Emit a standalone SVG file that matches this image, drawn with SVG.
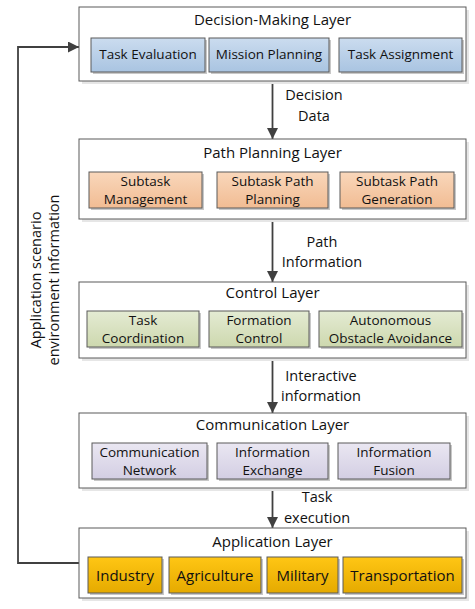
<svg xmlns="http://www.w3.org/2000/svg" width="475" height="609" viewBox="0 0 475 609">
<style>
text{font-family:"Open Sans","Liberation Sans",sans-serif;fill:#111;text-anchor:middle}
.title{font-size:15px}
.sub{font-size:13.5px}
.app{font-size:15px}
.lbl{font-size:14.5px}
.layer{fill:#fff;stroke:#5a5a5a;stroke-width:1}
.lshadow{fill:#e6e6e6}
.sshadow{fill:#c8c8c8}
.box{stroke:#5a5a5a;stroke-width:1}
.b{fill:url(#gBlue)}
.o{fill:url(#gOrange)}
.g{fill:url(#gGreen)}
.p{fill:url(#gPurple)}
.y{fill:url(#gYellow)}
.conn{fill:none;stroke:#404040;stroke-width:1.8}
</style>
<defs>
<linearGradient id="gBlue" x1="0" y1="0" x2="0" y2="1"><stop offset="0" stop-color="#cbdcef"/><stop offset="1" stop-color="#a9c4e1"/></linearGradient>
<linearGradient id="gOrange" x1="0" y1="0" x2="0" y2="1"><stop offset="0" stop-color="#f9d7bb"/><stop offset="1" stop-color="#f1bc93"/></linearGradient>
<linearGradient id="gGreen" x1="0" y1="0" x2="0" y2="1"><stop offset="0" stop-color="#e4ebd3"/><stop offset="1" stop-color="#cdd8ae"/></linearGradient>
<linearGradient id="gPurple" x1="0" y1="0" x2="0" y2="1"><stop offset="0" stop-color="#eae7f2"/><stop offset="1" stop-color="#d3cee3"/></linearGradient>
<linearGradient id="gYellow" x1="0" y1="0" x2="0" y2="1"><stop offset="0" stop-color="#ffc614"/><stop offset="1" stop-color="#e5aa00"/></linearGradient>
<marker id="arr" viewBox="0 0 10 10" refX="10" refY="5" markerWidth="11" markerHeight="11" markerUnits="userSpaceOnUse" orient="auto">
<path d="M0,0 L10,5 L0,10 Z" fill="#404040"/>
</marker>
</defs>

<g id="connectors">
<line class="conn" x1="272.5" y1="81" x2="272.5" y2="139" marker-end="url(#arr)"/>
<line class="conn" x1="272.5" y1="219" x2="272.5" y2="282" marker-end="url(#arr)"/>
<line class="conn" x1="272.5" y1="358" x2="272.5" y2="413" marker-end="url(#arr)"/>
<line class="conn" x1="272.5" y1="488" x2="272.5" y2="528" marker-end="url(#arr)"/>
<polyline class="conn" points="79,563 18,563 18,47 79,47" marker-end="url(#arr)"/>
<text class="lbl" x="314" y="100">Decision</text>
<text class="lbl" x="314" y="121">Data</text>
<text class="lbl" x="322" y="247">Path</text>
<text class="lbl" x="322" y="267">Information</text>
<text class="lbl" x="321" y="381">Interactive</text>
<text class="lbl" x="321" y="401">information</text>
<text class="lbl" x="317" y="502">Task</text>
<text class="lbl" x="317" y="523">execution</text>
<text class="lbl" transform="translate(41,280) rotate(-90)">Application scenario</text>
<text class="lbl" transform="translate(59,280) rotate(-90)">environment information</text>
</g>

<g id="decision-layer">
<rect class="lshadow" x="82" y="10" width="387" height="74"/>
<rect class="layer" x="79" y="7" width="387" height="74"/>
<text class="title" x="272.5" y="25">Decision-Making Layer</text>
<g id="task-evaluation"><rect class="sshadow" x="93" y="40" width="114" height="34"/><rect class="box b" x="91" y="38" width="114" height="34"/><text class="sub" x="148" y="59">Task Evaluation</text></g>
<g id="mission-planning"><rect class="sshadow" x="211" y="40" width="120" height="34"/><rect class="box b" x="209" y="38" width="120" height="34"/><text class="sub" x="269" y="59">Mission Planning</text></g>
<g id="task-assignment"><rect class="sshadow" x="341" y="40" width="123" height="34"/><rect class="box b" x="339" y="38" width="123" height="34"/><text class="sub" x="400.5" y="59">Task Assignment</text></g>
</g>

<g id="path-planning-layer">
<rect class="lshadow" x="82" y="142" width="387" height="80"/>
<rect class="layer" x="79" y="139" width="387" height="80"/>
<text class="title" x="272.5" y="158">Path Planning Layer</text>
<g id="subtask-management"><rect class="sshadow" x="91" y="174" width="113" height="36"/><rect class="box o" x="89" y="172" width="113" height="36"/><text class="sub" x="145.5" y="186">Subtask</text><text class="sub" x="145.5" y="204">Management</text></g>
<g id="subtask-path-planning"><rect class="sshadow" x="219" y="174" width="111" height="36"/><rect class="box o" x="217" y="172" width="111" height="36"/><text class="sub" x="272.5" y="186">Subtask Path</text><text class="sub" x="272.5" y="204">Planning</text></g>
<g id="subtask-path-generation"><rect class="sshadow" x="342" y="174" width="114" height="36"/><rect class="box o" x="340" y="172" width="114" height="36"/><text class="sub" x="397" y="186">Subtask Path</text><text class="sub" x="397" y="204">Generation</text></g>
</g>

<g id="control-layer">
<rect class="lshadow" x="82" y="285" width="387" height="76"/>
<rect class="layer" x="79" y="282" width="387" height="76"/>
<text class="title" x="272.5" y="298">Control Layer</text>
<g id="task-coordination"><rect class="sshadow" x="89" y="313" width="112" height="36"/><rect class="box g" x="87" y="311" width="112" height="36"/><text class="sub" x="143" y="325">Task</text><text class="sub" x="143" y="343">Coordination</text></g>
<g id="formation-control"><rect class="sshadow" x="211" y="313" width="100" height="36"/><rect class="box g" x="209" y="311" width="100" height="36"/><text class="sub" x="259" y="325">Formation</text><text class="sub" x="259" y="343">Control</text></g>
<g id="obstacle-avoidance"><rect class="sshadow" x="321" y="313" width="143" height="36"/><rect class="box g" x="319" y="311" width="143" height="36"/><text class="sub" x="390.5" y="325">Autonomous</text><text class="sub" x="390.5" y="343">Obstacle Avoidance</text></g>
</g>

<g id="communication-layer">
<rect class="lshadow" x="82" y="416" width="387" height="75"/>
<rect class="layer" x="79" y="413" width="387" height="75"/>
<text class="title" x="272.5" y="430">Communication Layer</text>
<g id="communication-network"><rect class="sshadow" x="94" y="445" width="115" height="36"/><rect class="box p" x="92" y="443" width="115" height="36"/><text class="sub" x="149.5" y="457">Communication</text><text class="sub" x="149.5" y="475">Network</text></g>
<g id="information-exchange"><rect class="sshadow" x="219" y="445" width="111" height="36"/><rect class="box p" x="217" y="443" width="111" height="36"/><text class="sub" x="272.5" y="457">Information</text><text class="sub" x="272.5" y="475">Exchange</text></g>
<g id="information-fusion"><rect class="sshadow" x="340" y="445" width="112" height="36"/><rect class="box p" x="338" y="443" width="112" height="36"/><text class="sub" x="394" y="457">Information</text><text class="sub" x="394" y="475">Fusion</text></g>
</g>

<g id="application-layer">
<rect class="lshadow" x="82" y="531" width="387" height="70"/>
<rect class="layer" x="79" y="528" width="387" height="70"/>
<text class="title" x="272.5" y="547">Application Layer</text>
<g id="industry"><rect class="sshadow" x="90" y="559" width="74" height="36"/><rect class="box y" x="88" y="557" width="74" height="36"/><text class="app" x="125" y="581">Industry</text></g>
<g id="agriculture"><rect class="sshadow" x="171" y="559" width="92" height="36"/><rect class="box y" x="169" y="557" width="92" height="36"/><text class="app" x="215" y="581">Agriculture</text></g>
<g id="military"><rect class="sshadow" x="269" y="559" width="71" height="36"/><rect class="box y" x="267" y="557" width="71" height="36"/><text class="app" x="302.5" y="581">Military</text></g>
<g id="transportation"><rect class="sshadow" x="345" y="559" width="119" height="36"/><rect class="box y" x="343" y="557" width="119" height="36"/><text class="app" x="402.5" y="581">Transportation</text></g>
</g>
</svg>
